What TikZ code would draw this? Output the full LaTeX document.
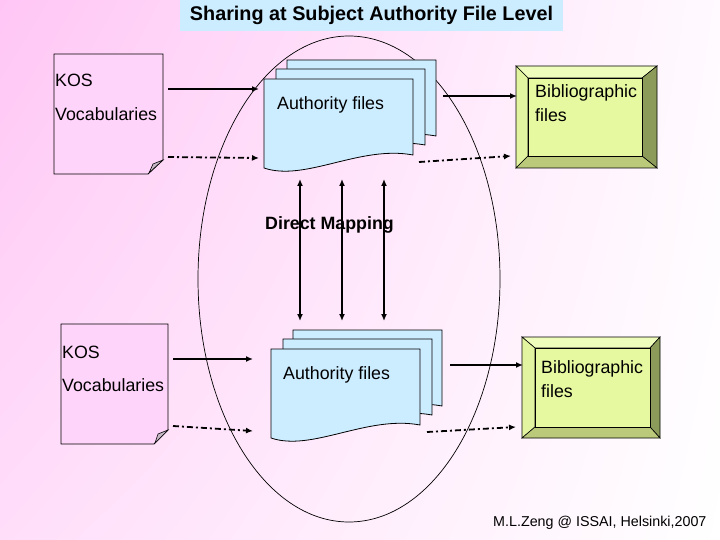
\documentclass[tikz,border=0pt]{standalone}
\usepackage{fontspec}
\setmainfont{Liberation Sans}
\usetikzlibrary{arrows.meta,shadings}
\definecolor{bgA}{RGB}{255,198,245}
\definecolor{bgB}{RGB}{255,222,250}
\definecolor{bgC}{RGB}{255,250,255}
\definecolor{kosfill}{RGB}{255,212,250}
\definecolor{foldfill}{RGB}{200,184,200}
\definecolor{authblue}{RGB}{204,236,255}
\definecolor{bibface}{RGB}{230,248,160}
\definecolor{bibtop}{RGB}{238,252,188}
\definecolor{bibleft}{RGB}{226,244,160}
\definecolor{bibright}{RGB}{140,155,90}
\definecolor{bibbottom}{RGB}{186,202,122}
\tikzset{
  lbl/.style={anchor=west, inner sep=0pt, font=\fontsize{17.8}{18}\selectfont},
  kosbox/.style={fill=kosfill, draw=black, line width=0.8pt},
  foldtri/.style={fill=foldfill, draw=black, line width=0.6pt},
  docpage/.style={fill=authblue, draw=black, line width=0.8pt},
  bevel/.style={draw=black, line width=0.6pt},
  solidarrow/.style={line width=2pt, -{Latex[length=7pt,width=6pt]}},
  dasharrow/.style={line width=1.8pt, dash pattern=on 6pt off 3pt on 2pt off 3pt, -{Latex[length=7pt,width=6pt]}},
  maparrow/.style={line width=2pt, {Latex[length=7pt,width=6pt]}-{Latex[length=7pt,width=6pt]}}
}
\newcommand\mydoc[2]{%
  \begin{scope}[shift={(#1,#2)}]
    \path[docpage] (0,0) -- (149,0) -- (149,76) .. controls (96,66) and (41,103) .. (0,89) -- cycle;
  \end{scope}}
\newcommand\mybib[8]{% x1 y1 x2 y2 ix1 iy1 ix2 iy2
  \path[bevel, fill=bibtop] (#1,#2) -- (#3,#2) -- (#7,#6) -- (#5,#6) -- cycle;
  \path[bevel, fill=bibleft] (#1,#2) -- (#5,#6) -- (#5,#8) -- (#1,#4) -- cycle;
  \path[bevel, fill=bibright] (#3,#2) -- (#3,#4) -- (#7,#8) -- (#7,#6) -- cycle;
  \path[bevel, fill=bibbottom] (#1,#4) -- (#3,#4) -- (#7,#8) -- (#5,#8) -- cycle;
  \path[bevel, fill=bibface] (#5,#6) rectangle (#7,#8);}
\begin{document}
\begin{tikzpicture}[x=1pt,y=-1pt]
\useasboundingbox (0,0) rectangle (720,540);
\shade[upper left=bgA, upper right=bgC, lower left=bgB, lower right=white] (0,0) rectangle (720,540);

% title
\node[fill=authblue, minimum width=383pt, minimum height=31pt, inner sep=0pt, font=\fontsize{19.8}{20}\selectfont\bfseries] (title) at (371.5,15.5) {Sharing at Subject Authority File Level};

% ellipse
\draw[line width=0.7pt] (349,279) ellipse [x radius=151, y radius=243];

% ---- top row ----
\path[kosbox] (54,54) -- (163,54) -- (163,160) -- (148,174) -- (54,174) -- cycle;
\path[foldtri] (163,160) -- (149,173) -- (153,164) -- cycle;
\node[lbl] (kos1) at (55,80) {KOS};
\node[lbl] (voc1) at (55,114) {Vocabularies};

\mydoc{287}{60}
\mydoc{276}{69}
\mydoc{264}{79}
\node[lbl] (auth1) at (277,105) {Authority files};

\mybib{516}{66}{657}{168}{528}{78}{642}{156}
\node[lbl] (bib1a) at (535,93) {Bibliographic};
\node[lbl] (bib1b) at (535,115) {files};

% ---- bottom row ----
\path[kosbox] (61,324) -- (168,324) -- (168,430) -- (154,444) -- (61,444) -- cycle;
\path[foldtri] (168,430) -- (155,443) -- (158,434) -- cycle;
\node[lbl] (kos2) at (62,352) {KOS};
\node[lbl] (voc2) at (62,385) {Vocabularies};

\mydoc{293}{330}
\mydoc{283}{339}
\mydoc{271}{349}
\node[lbl] (auth2) at (283,375) {Authority files};

\mybib{522}{337}{660}{438}{535}{348}{650}{427}
\node[lbl] (bib2a) at (541,369) {Bibliographic};
\node[lbl] (bib2b) at (541,391) {files};

% ---- connector end points ----
\coordinate (k1s) at (168,89);  \coordinate (a1s) at (259,89);
\coordinate (k1d) at (168,157); \coordinate (a1d) at (259,158);
\coordinate (b1s0) at (443,96); \coordinate (b1s) at (517,96);
\coordinate (b1d0) at (419,162); \coordinate (b1d) at (511,156);
\coordinate (k2s) at (173,359); \coordinate (a2s) at (253,359);
\coordinate (k2d) at (173,426); \coordinate (a2d) at (253,431);
\coordinate (b2s0) at (450,365); \coordinate (b2s) at (523,365);
\coordinate (b2d0) at (427,432); \coordinate (b2d) at (516,427);
\foreach \x [count=\i] in {300,342,384}{
  \coordinate (mt\i) at (\x,179);
  \coordinate (mb\i) at (\x,321);
}

\draw[solidarrow] (k1s) -- (a1s);
\draw[dasharrow] (k1d) -- (a1d);
\draw[solidarrow] (b1s0) -- (b1s);
\draw[dasharrow] (b1d0) -- (b1d);
\draw[solidarrow] (k2s) -- (a2s);
\draw[dasharrow] (k2d) -- (a2d);
\draw[solidarrow] (b2s0) -- (b2s);
\draw[dasharrow] (b2d0) -- (b2d);
\foreach \i in {1,2,3}{ \draw[maparrow] (mt\i) -- (mb\i); }

\node[lbl, font=\fontsize{17.8}{18}\selectfont\bfseries] (dm) at (265,225) {Direct Mapping};

\node[anchor=west, inner sep=0pt, font=\fontsize{14.3}{14}\selectfont] (credit) at (493,523) {M.L.Zeng @ ISSAI, Helsinki,2007};
\end{tikzpicture}
\end{document}
